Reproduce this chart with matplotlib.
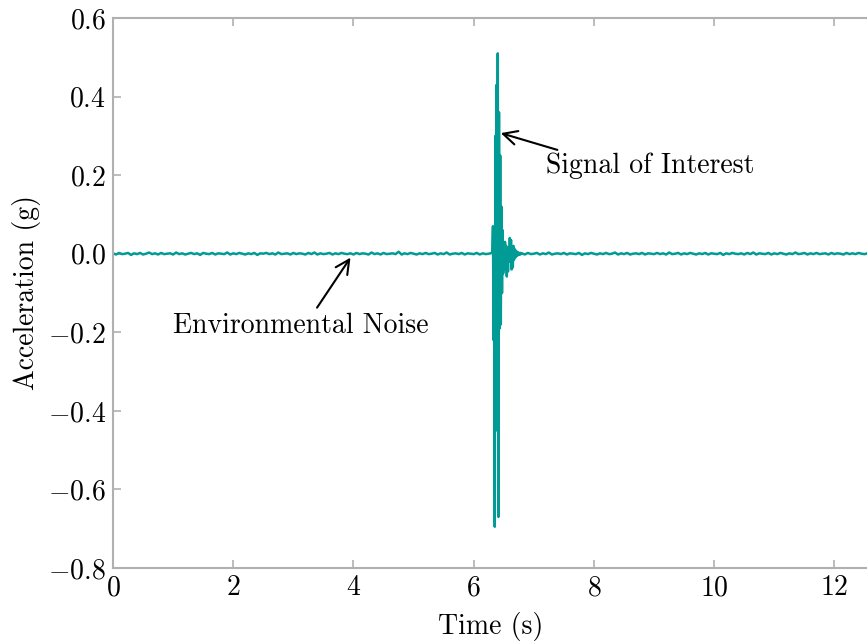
import numpy as np
import matplotlib
matplotlib.use("Agg")
import matplotlib.pyplot as plt

plt.rcParams['font.family'] = ['cmr10', 'DejaVu Serif']
plt.rcParams['mathtext.fontset'] = 'cm'
plt.rcParams['axes.formatter.use_mathtext'] = True
plt.rcParams['axes.unicode_minus'] = True

# ---- data (acceleration in g) ----
# pre-burst environmental noise, sampled every 0.05 s from 0.00 s (milli-g)
noise_pre_mg = [
    1, -2, 2, -1, 0, 2, -3, 1, -1, 2, -2, 0, 3, -1, 1, -2, 2, -1, 0, 1,
    -2, 3, -1, 1, -2, 0, 2, -1, 1, -3, 2, 0, -1, 2, -2, 1, 0, -1, 3, -2,
    1, -1, 2, 0, -2, 1, -1, 2, -3, 1, 0, 2, -1, 1, -2, 3, -1, 0, 1, -2,
    2, -1, 1, 0, -2, 2, -1, 3, -2, 1, -1, 0, 2, -2, 1, -1, 2, 0, -1, 1,
    -2, 2, -1, 1, 0, -2, 3, -1, 1, -2, 2, -1, 0, 1, -1, 5, -2, 1, -1, 2,
    0, -2, 1, -1, 2, -1, 0, 2, -2, 1, -1, 3, -2, 0, 1, -1, 2, -2, 1, 0,
    -1, 2, -2, 1, -1, 0, 2,
]
# burst (signal of interest), sampled every 0.01 s from 6.31 s (g)
burst_g = [
    0.004, 0.070, -0.220, 0.060, -0.695, 0.300, -0.450, 0.430, -0.300, 0.510,
    -0.670, 0.360, -0.190, 0.250, -0.180, 0.120, -0.100, 0.060, -0.050, 0.030,
    -0.020, 0.030, -0.040, 0.020, -0.058, 0.010, -0.045, 0.015, -0.020, 0.040,
    -0.010, 0.035, -0.040, 0.010, -0.035, 0.020, -0.015, 0.012, -0.010, 0.008,
    -0.006, 0.005, -0.004, 0.003, -0.003, 0.002, -0.002, 0.002, -0.001,
]
# post-burst environmental noise, sampled every 0.05 s from 6.80 s (milli-g)
noise_post_mg = [
    1, -2, 2, -1, 0, 2, -2, 1, -1, 3, -2, 0, 1, -1, 2, -2, 1, 0, -1, 2,
    -3, 1, -1, 2, 0, -2, 1, -1, 2, -1, 0, 3, -2, 1, -1, 2, -2, 0, 1, -1,
    2, -2, 1, 0, -1, 2, -1, 1, -2, 3, -1, 0, 2, -2, 1, -1, 2, 0, -2, 1,
    -1, 2, -2, 1, 0, -1, 2, -3, 1, -1, 2, 0, -1, 1, -2, 2, -1, 3, -2, 1,
    0, -1, 2, -2, 1, -1, 2, 0, -2, 1, -1, 3, -1, 0, 2, -2, 1, -1, 2, -1,
    0, 1, -2, 2, -1, 1, 0, -2, 2, -1, 1, -1, 2, 0, -1, 1,
]

t = np.concatenate([
    np.arange(len(noise_pre_mg)) * 0.05,
    6.31 + np.arange(len(burst_g)) * 0.01,
    6.80 + np.arange(len(noise_post_mg)) * 0.05,
])
acc = np.concatenate([
    np.array(noise_pre_mg) / 1000.0,
    np.array(burst_g),
    np.array(noise_post_mg) / 1000.0,
])

xticks = [0, 2, 4, 6, 8, 10, 12]
yticks = [-0.8, -0.6, -0.4, -0.2, 0.0, 0.2, 0.4, 0.6]

FS = 20

fig = plt.figure(figsize=(8.67, 6.44), dpi=100)
ax = fig.add_axes([113 / 867, 1 - 568 / 644, 1 - 113 / 867 + 0.002, 550 / 644])
ax.plot(t, acc, color='#009b95', lw=1.8)
ax.set_xlim(0, 12.57)
ax.set_ylim(-0.8, 0.6)
ax.set_xticks(xticks)
ax.set_yticks(yticks)
ax.set_xticklabels([f'${v}$' for v in xticks])
ax.set_yticklabels([f'${v:.1f}$' for v in yticks])

for s in ax.spines.values():
    s.set_color('#b0b0b0')
    s.set_linewidth(1.5)
ax.tick_params(direction='in', length=6, width=1.2, color='#b0b0b0',
               labelsize=FS, top=True, right=False, pad=5)
ax.set_xlabel('Time (s)', fontsize=FS, labelpad=8)
ax.set_ylabel('Acceleration (g)', fontsize=FS, labelpad=5)

ax.annotate('Signal of Interest', xy=(6.45, 0.307), xytext=(7.2, 0.205),
            fontsize=FS, va='baseline', ha='left',
            arrowprops=dict(arrowstyle='->', color='black', lw=1.5,
                            mutation_scale=25, shrinkA=0, shrinkB=0,
                            relpos=(0.1, 1.0)))
ax.annotate('Environmental Noise', xy=(3.95, -0.01), xytext=(1.0, -0.202),
            fontsize=FS, va='baseline', ha='left',
            arrowprops=dict(arrowstyle='->', color='black', lw=1.5,
                            mutation_scale=25, shrinkA=2, shrinkB=0,
                            relpos=(0.55, 1.0)))

fig.savefig('out.png', dpi=100)
